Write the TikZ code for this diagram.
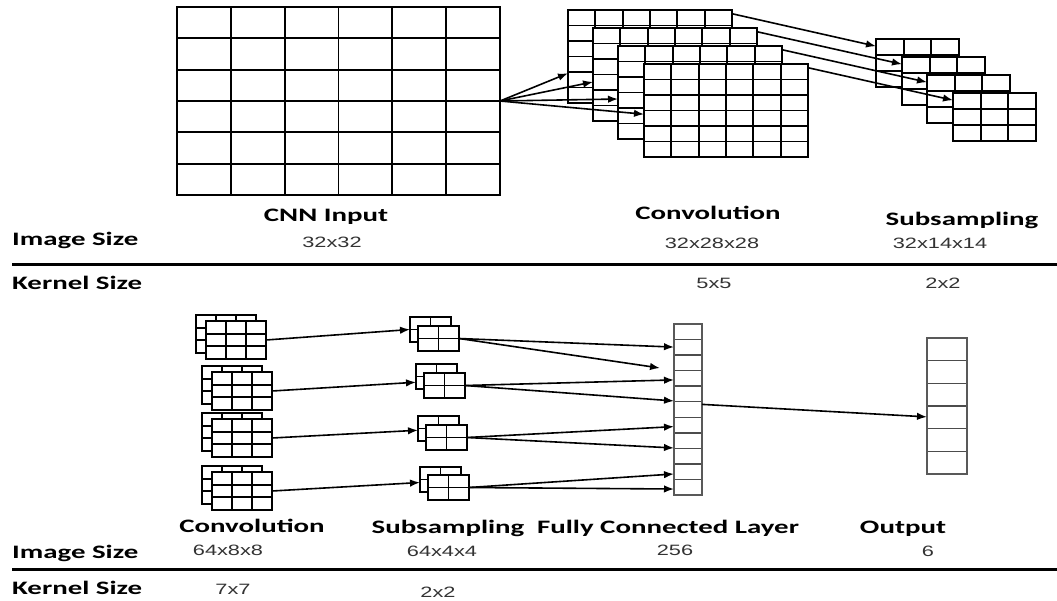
\documentclass[tikz,border=0pt]{standalone}
\usepackage{fontspec}
\newfontfamily\labfont[FakeStretch=1.52]{Carlito}
\newfontfamily\valfont[FakeStretch=1.45]{Liberation Sans}
\usetikzlibrary{arrows.meta,calc}
\tikzset{
  gridline/.style={line width=1.9pt},
  grid/.style n args={2}{draw=black, line width=2.8pt, fill=white, inner sep=0pt, outer sep=0pt, anchor=north west,
    path picture={
      \pgfmathtruncatemacro\nc{#1-1}
      \pgfmathtruncatemacro\nr{#2-1}
      \ifnum\nc>0
        \foreach \i in {1,...,\nc}{
          \draw[gridline] ($(path picture bounding box.north west)!\i/#1!(path picture bounding box.north east)$) --
                          ($(path picture bounding box.south west)!\i/#1!(path picture bounding box.south east)$);}
      \fi
      \ifnum\nr>0
        \foreach \j in {1,...,\nr}{
          \draw[gridline] ($(path picture bounding box.north west)!\j/#2!(path picture bounding box.south west)$) --
                          ($(path picture bounding box.north east)!\j/#2!(path picture bounding box.south east)$);}
      \fi
    }},
  inpbox/.style={grid={6}{6}, minimum width=323pt, minimum height=188pt},
  convbox/.style={grid={6}{6}, minimum width=164pt, minimum height=93pt},
  subbox/.style={grid={3}{3}, minimum width=83pt, minimum height=48pt},
  convsm/.style={grid={3}{3}, minimum width=60pt, minimum height=38pt},
  subsm/.style={grid={2}{2}, minimum width=41pt, minimum height=25pt},
  fcbox/.style={grid={1}{11}, minimum width=28pt, minimum height=171pt, draw=black!65, line width=1.8pt, gridline/.style={line width=1.4pt, black!70}},
  outbox/.style={grid={1}{6}, minimum width=40pt, minimum height=136pt, draw=black!65, line width=1.8pt, gridline/.style={line width=1.4pt, black!70}},
  conn/.style={-{Latex[length=10pt,width=7.5pt]}, line width=1.6pt},
  lab/.style={font=\labfont\bfseries\fontsize{19}{21}\selectfont, anchor=base, inner sep=0pt},
  rowlab/.style={lab, anchor=base west},
  val/.style={font=\valfont\fontsize{15}{17}\selectfont, text=black!80, anchor=base, inner sep=0pt},
  rule/.style={line width=3pt}
}
\begin{document}
\begin{tikzpicture}[x=1pt,y=-1pt]
\fill[white] (0,0) rectangle (1057,600);
\useasboundingbox (0,0) rectangle (1057,600);

% ---- top row ----
\node[inpbox] (inp) at (177,7) {};
\node[convbox] (c1) at (568,10) {};
\node[convbox] (c2) at (593,28) {};
\node[convbox] (c3) at (618,46) {};
\node[convbox] (c4) at (644,64) {};
\node[subbox] (s1) at (876,39) {};
\node[subbox] (s2) at (902,57) {};
\node[subbox] (s3) at (927,75) {};
\node[subbox] (s4) at (953,93) {};

\draw[conn] (inp.east) -- ($(c1.north west)!0.68!(c1.south west)$);
\draw[conn] (inp.east) -- ($(c2.north west)!0.58!(c2.south west)$);
\draw[conn] (inp.east) -- ($(c3.north west)!0.57!(c3.south west)$);
\draw[conn] (inp.east) -- ($(c4.north west)!0.54!(c4.south west)$);
\foreach \k in {1,2,3,4}{
  \draw[conn] ($(c\k.north east)!0.04!(c\k.south east)$) -- ($(s\k.north west)!0.15!(s\k.south west)$);
}

% ---- bottom row ----
\node[convsm] (cb1) at (196,315) {};
\node[convsm] (cf1) at (206,321) {};
\node[convsm] (cb2) at (202,366) {};
\node[convsm] (cf2) at (212,372) {};
\node[convsm] (cb3) at (202,413) {};
\node[convsm] (cf3) at (212,419) {};
\node[convsm] (cb4) at (202,466) {};
\node[convsm] (cf4) at (212,472) {};

\node[subsm] (sb1) at (410,317) {};
\node[subsm] (sf1) at (418,326) {};
\node[subsm] (sb2) at (416,364) {};
\node[subsm] (sf2) at (424,373) {};
\node[subsm] (sb3) at (418,416) {};
\node[subsm] (sf3) at (426,425) {};
\node[subsm] (sb4) at (420,467) {};
\node[subsm] (sf4) at (428,475) {};

\node[fcbox] (fc) at (674,324) {};
\node[outbox] (out) at (927,338) {};
\coordinate (fcgap) at (660,368);

\draw[conn] (cf1.east) -- ($(sb1.north west)!0.5!(sb1.south west)$);
\draw[conn] (cf2.east) -- ($(sb2.north west)!0.73!(sb2.south west)$);
\draw[conn] (cf3.east) -- ($(sb3.north west)!0.57!(sb3.south west)$);
\draw[conn] (cf4.east) -- ($(sb4.north west)!0.62!(sb4.south west)$);

\draw[conn] (sf1.east) -- ($(fc.north west)!0.135!(fc.south west)$);
\draw[conn] (sf1.east) -- (fcgap);
\draw[conn] (sf2.east) -- ($(fc.north west)!0.327!(fc.south west)$);
\draw[conn] (sf2.east) -- ($(fc.north west)!0.45!(fc.south west)$);
\draw[conn] (sf3.east) -- ($(fc.north west)!0.60!(fc.south west)$);
\draw[conn] (sf3.east) -- ($(fc.north west)!0.725!(fc.south west)$);
\draw[conn] (sf4.east) -- ($(fc.north west)!0.877!(fc.south west)$);
\draw[conn] (sf4.east) -- ($(fc.north west)!0.965!(fc.south west)$);
\draw[conn] ($(fc.north east)!0.47!(fc.south east)$) -- ($(out.north west)!0.58!(out.south west)$);

% ---- text: top ----
\node[lab] (tCNN) at (326,221) {CNN Input};
\node[val] (v3232) at (332,247) {32x32};
\node[lab] (tConv) at (708,219) {Convolution};
\node[val] (v322828) at (712,248) {32x28x28};
\node[val] (k55) at (714,288) {5x5};
\node[lab] (tSub) at (962,225) {Subsampling};
\node[val] (v321414) at (940,248) {32x14x14};
\node[val] (k22a) at (943,288) {2x2};
\node[rowlab] (rImg1) at (12,245) {Image Size};
\node[rowlab] (rKer1) at (12,289) {Kernel Size};
\draw[rule] (12,264) -- (1057,264);

% ---- text: bottom ----
\node[lab] (bConv) at (252,532) {Convolution};
\node[val] (v6488) at (228,555) {64x8x8};
\node[val] (k77) at (233,594) {7x7};
\node[lab] (bSub) at (448,533) {Subsampling};
\node[val] (v6444) at (442,556) {64x4x4};
\node[val] (k22b) at (438,597) {2x2};
\node[lab] (bFC) at (668,533) {Fully Connected Layer};
\node[val] (v256) at (675,555) {256};
\node[lab] (bOut) at (903,533) {Output};
\node[val] (v6) at (928,556) {6};
\node[rowlab] (rImg2) at (12,558) {Image Size};
\node[rowlab] (rKer2) at (12,594) {Kernel Size};
\draw[rule] (12,569) -- (1057,569);
\end{tikzpicture}
\end{document}
